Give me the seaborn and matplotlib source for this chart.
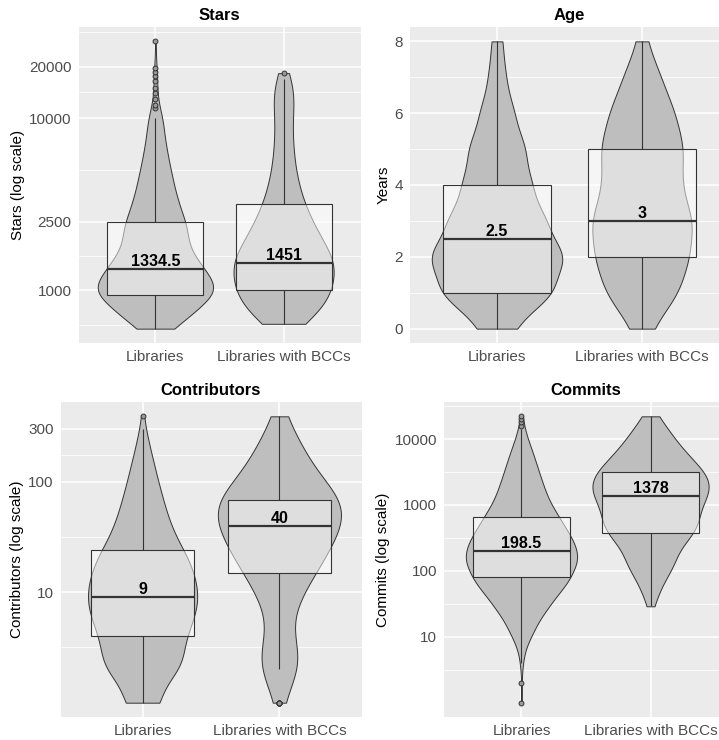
import numpy as np
import pandas as pd
import matplotlib
matplotlib.use("Agg")
import matplotlib.pyplot as plt
from matplotlib.ticker import FixedLocator, NullFormatter
import seaborn as sns

# --- data: values and how many repos sit at each value ---
groups = ["Libraries", "Libraries with BCCs"]

stars_lib_values = [600, 740, 935, 1120, 1334.5, 1590, 2000, 2500, 3160, 3980, 5010, 6310, 7940, 10000,
                    11500, 12000, 13000, 14000, 15000, 16500, 17500, 18500, 19500, 28000]
stars_lib_counts = [25, 65, 95, 78, 60, 56, 54, 52, 40, 32, 26, 20, 15, 13,
                    1, 1, 1, 1, 1, 1, 1, 1, 1, 1]
stars_bcc_values = [640, 790, 1000, 1200, 1451, 1780, 2240, 2700, 3180, 3980, 5010, 6310, 7940, 10000,
                    12600, 15000, 17000, 18300]
stars_bcc_counts = [12, 30, 32, 25, 34, 28, 22, 12, 12, 11, 8, 7, 6, 6, 7, 5, 3, 1]

age_values = [0, 1, 2, 3, 4, 5, 6, 7, 8]
age_lib_counts = [6, 20, 24, 17, 12, 10, 6, 3, 2]
age_bcc_counts = [2, 8, 10, 11, 8, 9, 7, 4, 1]

contrib_lib_values = [1, 2, 3, 4, 5, 6, 7, 8, 9, 10, 12, 14, 17, 20, 24, 30, 40, 50, 65, 80, 100,
                      130, 160, 200, 250, 300, 390]
contrib_lib_counts = [75, 130, 84, 67, 62, 57, 50, 45, 40, 52, 59, 59, 57, 51, 53, 55, 46, 39, 30, 26, 24,
                      19, 14, 11, 6, 4, 1]
contrib_bcc_values = [1, 2, 3, 4, 5, 6, 8, 10, 12, 15, 20, 25, 30, 40, 50, 60, 68, 80, 100, 130, 160,
                      200, 250, 300, 390]
contrib_bcc_counts = [6, 24, 15, 4, 4, 5, 8, 10, 12, 18, 23, 21, 26, 32, 27, 20, 28, 18, 20, 15, 13,
                      11, 7, 5, 4]

commits_lib_values = [1, 2, 4, 6, 10, 15, 25, 40, 60, 82, 120, 150, 198.5, 260, 350, 480, 662, 900,
                      1300, 1800, 2500, 3500, 5000, 7000, 10000, 14000, 16000, 18000, 20000, 22000]
commits_lib_counts = [1, 1, 3, 7, 22, 36, 66, 80, 82, 95, 91, 76, 82, 83, 80, 74, 62, 57,
                      49, 39, 35, 31, 25, 19, 12, 4, 1, 1, 1, 1]
commits_bcc_values = [29, 40, 60, 100, 150, 250, 380, 500, 700, 1000, 1378, 1800, 2400, 3178, 4200,
                      6000, 8500, 12000, 16000, 22100]
commits_bcc_counts = [2, 4, 10, 17, 21, 27, 28, 26, 31, 31, 30, 32, 31, 28, 26, 24, 17, 12, 8, 5]

stars_ticks = [1000, 2500, 10000, 20000]
age_ticks = [0, 2, 4, 6, 8]
contrib_ticks = [10, 100, 300]
commits_ticks = [10, 100, 1000, 10000]

# --- look: something close to ggplot2's theme_grey ---
sns.set_theme(style="darkgrid", rc={"axes.facecolor": "#EBEBEB", "grid.color": "white"})
plt.rcParams["font.family"] = ["Liberation Sans", "DejaVu Sans"]

VIOLIN_FILL = "#BEBEBE"
LINE = "#333333"


def minor_breaks(major, log):
    # ggplot style: midpoints between majors, plus one step beyond each end
    b = np.log10(major) if log else np.asarray(major, float)
    step = b[1] - b[0]
    b = np.concatenate([[b[0] - step], b, [b[-1] + step]])
    mid = (b[:-1] + b[1:]) / 2
    return 10 ** mid if log else mid


def draw_panel(ax, title, ylabel, lib_vals, lib_counts, bcc_vals, bcc_counts, ticks, log, bw):
    df = pd.DataFrame({
        "group": [groups[0]] * sum(lib_counts) + [groups[1]] * sum(bcc_counts),
        "value": np.concatenate([np.repeat(lib_vals, lib_counts), np.repeat(bcc_vals, bcc_counts)]),
    })
    scale = True if log else None

    sns.violinplot(data=df, x="group", y="value", order=groups, log_scale=scale,
                   cut=0, inner=None, density_norm="area", width=0.9, bw_adjust=bw,
                   color=VIOLIN_FILL, linecolor=LINE, linewidth=0.7, ax=ax)
    sns.boxplot(data=df, x="group", y="value", order=groups, log_scale=scale,
                width=0.75, color="white", linecolor=LINE, linewidth=0.8, showcaps=False,
                medianprops={"linewidth": 1.6},
                flierprops={"marker": "o", "markersize": 3.5, "markerfacecolor": "#9A9A9A",
                            "markeredgecolor": LINE, "markeredgewidth": 0.7},
                ax=ax)
    # translucent white box so the violin shows through
    for p in ax.patches:
        p.set_facecolor((1, 1, 1, 0.5))

    # median labels
    for i, g in enumerate(groups):
        med = np.median(df.loc[df["group"] == g, "value"])
        ax.annotate(f"{med:g}", (i, med), xytext=(0, 2.2), textcoords="offset points",
                    ha="center", va="baseline", fontsize=11.5, fontweight="bold", color="black")

    # limits: 5% padding (in log space when log) and 0.6 on the discrete axis
    v = df["value"].to_numpy(float)
    if log:
        lo, hi = np.log10(v.min()), np.log10(v.max())
        pad = 0.05 * (hi - lo)
        ax.set_ylim(10 ** (lo - pad), 10 ** (hi + pad))
    else:
        lo, hi = v.min(), v.max()
        pad = 0.05 * (hi - lo)
        ax.set_ylim(lo - pad, hi + pad)
    ax.set_xlim(-0.6, 1.6)

    ax.yaxis.set_major_locator(FixedLocator(ticks))
    ax.set_yticklabels([f"{t:g}" for t in ticks])
    ax.yaxis.set_minor_locator(FixedLocator(minor_breaks(ticks, log)))
    ax.yaxis.set_minor_formatter(NullFormatter())

    ax.set_axisbelow(True)
    ax.grid(True, which="major", axis="both", color="white", linewidth=1.1)
    ax.grid(True, which="minor", axis="y", color="white", linewidth=0.55)
    for s in ax.spines.values():
        s.set_visible(False)
    ax.tick_params(axis="both", which="major", length=3, width=0.8, color=LINE,
                   labelcolor="#4D4D4D", labelsize=11, pad=2)
    ax.tick_params(axis="both", which="minor", length=0)

    ax.set_title(title, fontsize=12, fontweight="bold", color="black", pad=5)
    ax.set_xlabel("")
    ax.set_ylabel(ylabel, fontsize=11, color="black", labelpad=3)


fig = plt.figure(figsize=(7.19, 7.40), dpi=100)
W, H = 719, 740


def place(x0, x1, y0, y1):
    # pixel box -> figure fraction
    return fig.add_axes([x0 / W, (H - y1) / H, (x1 - x0) / W, (y1 - y0) / H])


ax_stars = place(78.5, 360.5, 27, 343)
ax_age = place(410, 729, 27, 343)
ax_contrib = place(60.5, 361.5, 402, 717)
ax_commits = place(444, 728, 402, 717)

draw_panel(ax_stars, "Stars", "Stars (log scale)", stars_lib_values, stars_lib_counts,
           stars_bcc_values, stars_bcc_counts, stars_ticks, True, 0.85)
draw_panel(ax_age, "Age", "Years", age_values, age_lib_counts,
           age_values, age_bcc_counts, age_ticks, False, 0.7)
draw_panel(ax_contrib, "Contributors", "Contributors (log scale)", contrib_lib_values, contrib_lib_counts,
           contrib_bcc_values, contrib_bcc_counts, contrib_ticks, True, 1.15)
draw_panel(ax_commits, "Commits", "Commits (log scale)", commits_lib_values, commits_lib_counts,
           commits_bcc_values, commits_bcc_counts, commits_ticks, True, 1.0)

fig.savefig("out.png", dpi=100)
